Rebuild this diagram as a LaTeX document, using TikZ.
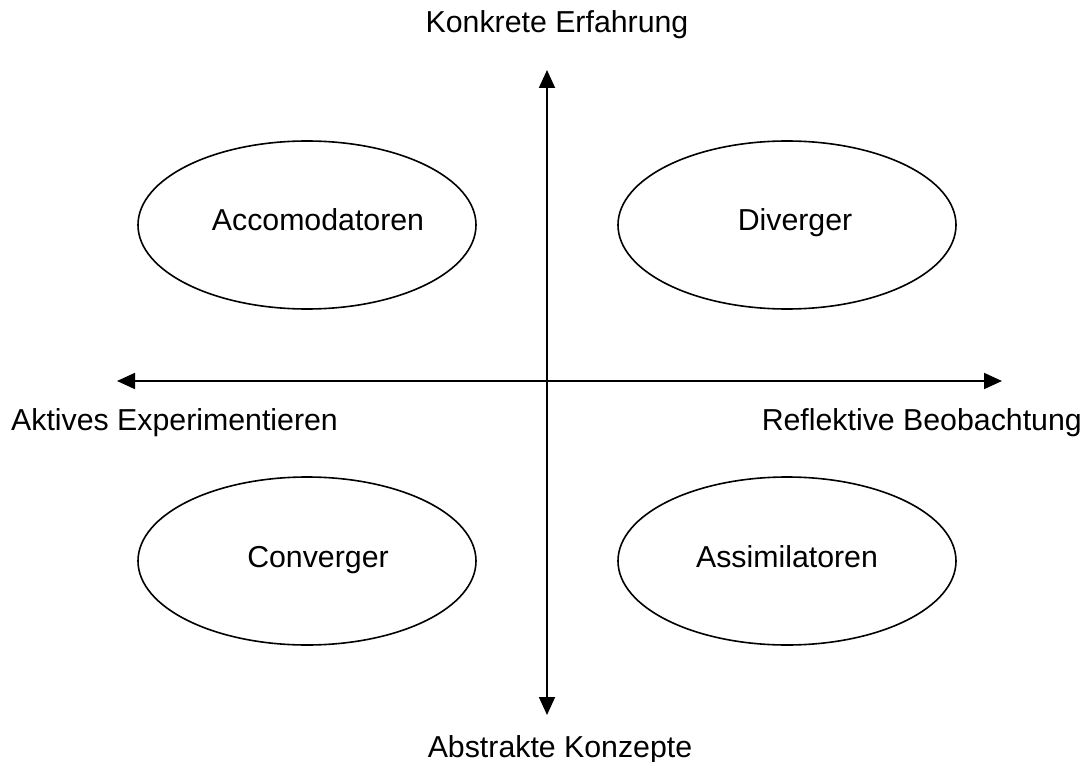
\documentclass[tikz,border=0pt]{standalone}
\usepackage{fontspec}
\setmainfont{Liberation Sans}
\usetikzlibrary{arrows.meta,shapes.geometric}
\begin{document}
\begin{tikzpicture}[x=1pt,y=-1pt,
  ell/.style={draw,line width=1.6pt,ellipse,minimum width=338pt,minimum height=168pt,inner sep=0pt},
  lbl/.style={font=\fontsize{30.3}{35}\selectfont,inner sep=0pt},
  axis/.style={line width=1.8pt,{Triangle[length=18pt,width=16pt]}-{Triangle[length=18pt,width=16pt]}}]
\useasboundingbox[fill=white] (0,0) rectangle (1092,762);
\coordinate (top) at (547,70);
\coordinate (bot) at (547,715);
\coordinate (lft) at (117,381);
\coordinate (rgt) at (1002,381);
\draw[axis] (top) -- (bot);
\draw[axis] (lft) -- (rgt);
\node[ell] (acc) at (307,225) {};
\node[ell] (div) at (787,225) {};
\node[ell] (con) at (307,561) {};
\node[ell] (ass) at (787,561) {};
\node[lbl,anchor=base] (tacc) at (318,230) {Accomodatoren};
\node[lbl,anchor=base] (tdiv) at (795,230) {Diverger};
\node[lbl,anchor=base] (tcon) at (318,567) {Converger};
\node[lbl,anchor=base] (tass) at (787,567) {Assimilatoren};
\node[lbl,anchor=base] (ke) at (557,33) {Konkrete Erfahrung};
\node[lbl,anchor=base] (ak) at (560,757) {Abstrakte Konzepte};
\node[lbl,anchor=base west] (ae) at (11,430) {Aktives Experimentieren};
\node[lbl,anchor=base east] (rb) at (1082,430) {Reflektive Beobachtung};
\end{tikzpicture}
\end{document}
